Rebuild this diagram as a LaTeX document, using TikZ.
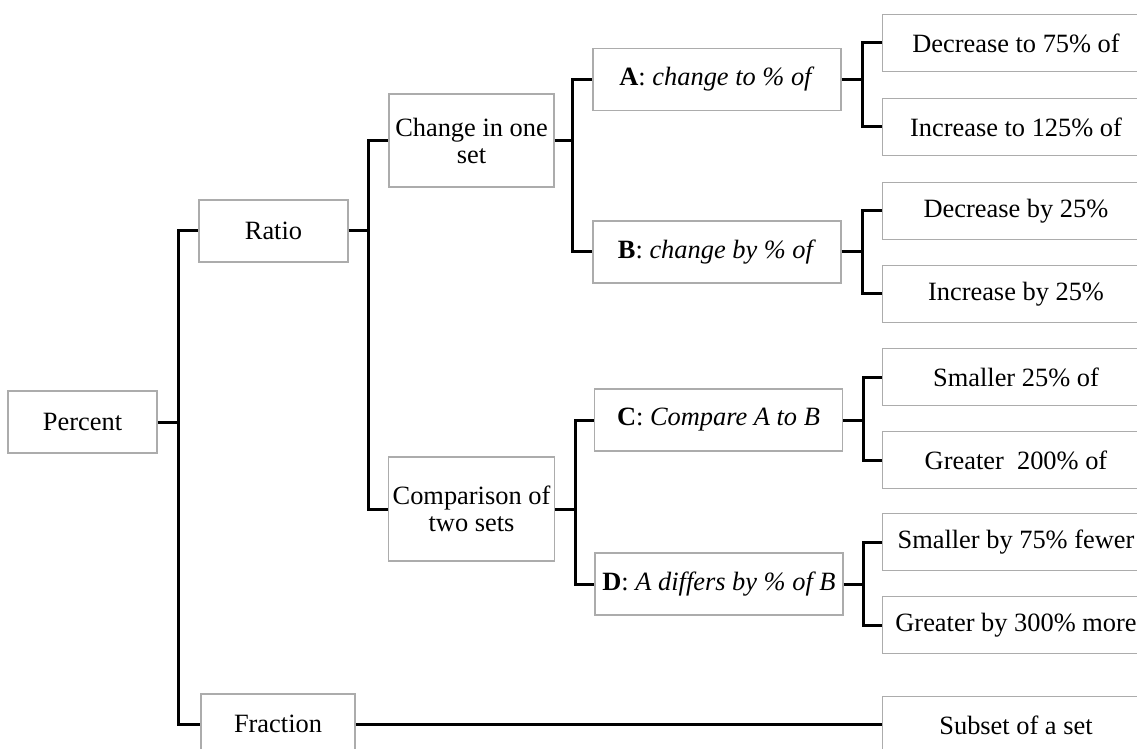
\documentclass[tikz,border=0pt]{standalone}
\usepackage{fontspec}
\setmainfont{Liberation Serif}

\tikzset{
  box/.style={draw=gray!65,line width=0.8pt,align=center,inner sep=2pt,
    font=\rmfamily\fontsize{13.2}{13.5}\selectfont},
  smallbox/.style={box,minimum width=74.5pt,minimum height=31pt},
  midbox/.style={box,minimum width=82.5pt},
  letterbox/.style={box,minimum width=124pt,minimum height=31pt},
  leafbox/.style={box,minimum width=133.5pt,minimum height=28.5pt},
  link/.style={line width=1.5pt},
}

\begin{document}
\begin{tikzpicture}[x=0.5pt,y=-0.5pt]
   \clip (0,0) rectangle (1137,749);

   \node[smallbox] (percent) at (82.5,422) {Percent};
   \node[smallbox] (ratio) at (273.5,231) {Ratio};
   \node[smallbox,minimum width=77pt,minimum height=30pt] (fraction) at (278,724) {Fraction};

   \node[midbox,minimum height=46.5pt] (change) at (471.5,140.5) {Change in one\\set};
   \node[midbox,minimum height=52pt] (compar) at (471.5,509) {Comparison of\\two sets};

   \node[letterbox] (ca) at (717,79.5) {\textbf{A}: \textit{change to \% of}};
   \node[letterbox] (cb) at (717,252) {\textbf{B}: \textit{change by \% of}};
   \node[letterbox] (cc) at (718.5,420) {\textbf{C}: \textit{Compare A to B}};
   \node[letterbox] (cd) at (719,584) {\textbf{D}: \textit{A differs by \% of B}};

   \node[leafbox] (la1) at (1016,43) {Decrease to 75\% of};
   \node[leafbox] (la2) at (1016,127) {Increase to 125\% of};
   \node[leafbox] (lb1) at (1016,211) {Decrease by 25\%};
   \node[leafbox] (lb2) at (1016,294) {Increase by 25\%};
   \node[leafbox] (lc1) at (1016,377) {Smaller 25\% of};
   \node[leafbox] (lc2) at (1016,460) {Greater~ 200\% of};
   \node[leafbox] (ld1) at (1016,542) {Smaller by 75\% fewer};
   \node[leafbox] (ld2) at (1016,625) {Greater by 300\% more};
   \node[leafbox] (subset) at (1016,725) {Subset of a set};

   \draw[link] (percent.east) -- ++(21,0) |- (ratio.west);
   \draw[link] (percent.east) -- ++(21,0) |- (fraction.west);
   \draw[link] (ratio.east) -- ++(20,0) |- (change.west);
   \draw[link] (ratio.east) -- ++(20,0) |- (compar.west);
   \draw[link] (change.east) -- ++(18,0) |- (ca.west);
   \draw[link] (change.east) -- ++(18,0) |- (cb.west);
   \draw[link] (compar.east) -- ++(20,0) |- (cc.west);
   \draw[link] (compar.east) -- ++(20,0) |- (cd.west);
   \draw[link] (ca.east) -- ++(21,0) |- (la1.west);
   \draw[link] (ca.east) -- ++(21,0) |- (la2.west);
   \draw[link] (cb.east) -- ++(21,0) |- (lb1.west);
   \draw[link] (cb.east) -- ++(21,0) |- (lb2.west);
   \draw[link] (cc.east) -- ++(20,0) |- (lc1.west);
   \draw[link] (cc.east) -- ++(20,0) |- (lc2.west);
   \draw[link] (cd.east) -- ++(20,0) |- (ld1.west);
   \draw[link] (cd.east) -- ++(20,0) |- (ld2.west);
   \draw[link] (fraction.east) -- (fraction.east -| subset.west);
\end{tikzpicture}
\end{document}
